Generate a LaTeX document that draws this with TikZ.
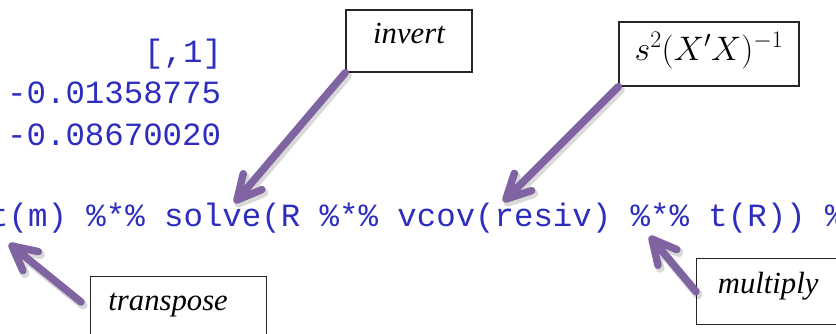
\RequirePackage{fix-cm}
\documentclass[tikz,border=0pt]{standalone}
\usepackage{fontspec}
\setmainfont{Liberation Serif}
\setmonofont{Liberation Mono}
\usetikzlibrary{calc}
\definecolor{codeblue}{RGB}{45,45,190}
\definecolor{arrowpurple}{RGB}{128,100,162}
\tikzset{
  codetext/.style={font=\fontsize{32.4}{36}\selectfont\ttfamily, text=codeblue, inner sep=0pt, anchor=base west},
  notebox/.style={draw=black!85, line width=1.3pt, inner sep=0pt,
    font=\fontsize{30.7}{36}\selectfont\itshape, text height=0.7em, text depth=0.25em},
  arrowline/.style={draw=arrowpurple, line width=7.5pt, line cap=round, line join=round},
  arrowshadow/.style={draw=black, opacity=0.15, line width=9pt, line cap=round, line join=round,
    transform canvas={shift={(2pt,-3pt)}}}
}
\newcommand{\oarrow}[2]{%
  \draw[arrowshadow] (#1) -- (#2) ($(#2)!27pt!27:(#1)$) -- (#2) -- ($(#2)!27pt!-27:(#1)$);
  \draw[arrowline] (#1) -- (#2) ($(#2)!27pt!27:(#1)$) -- (#2) -- ($(#2)!27pt!-27:(#1)$);
}
\begin{document}
\begin{tikzpicture}[x=1pt,y=-1pt]
\useasboundingbox (0,0) rectangle (836,334);
\clip (0,0) rectangle (836,334);
\fill[white] (0,0) rectangle (836,334);
% R output
\node[codetext] (hdr) at (144,63) {[,1]};
\node[codetext] (num1) at (7,104) {-0.01358775};
\node[codetext] (num2) at (7,146) {-0.08670020};
\node[codetext] (code) at (-11,226) {t(m) \%*\% solve(R \%*\% vcov(resiv) \%*\% t(R)) \%*\% t(m)};
% boxes
\node[notebox, minimum width=126pt, minimum height=62pt] (inv) at (409,41) {invert};
\node[notebox, minimum width=180pt, minimum height=64pt] (s2) at (709,54) {\raisebox{-4pt}{\fontsize{34}{40}\selectfont$s^2(X'X)^{-1}$}};
\node[notebox, minimum width=176pt, minimum height=64pt, anchor=north west] (tr) at (90,276) {\hspace*{-21pt}transpose};
\node[notebox, minimum width=143pt, minimum height=66pt, anchor=north west] (mul) at (696,258) {multiply};
% arrow tips on the code
\coordinate (tipInv) at (237,200);
\coordinate (tipS2) at (506,199);
\coordinate (tipTr) at (12,246);
\coordinate (tipMul) at (652,239);
\coordinate (tailTr) at (81,302);
\oarrow{inv.south west}{tipInv}
\oarrow{s2.south west}{tipS2}
\oarrow{tailTr}{tipTr}
\oarrow{mul.west}{tipMul}
\end{tikzpicture}
\end{document}
